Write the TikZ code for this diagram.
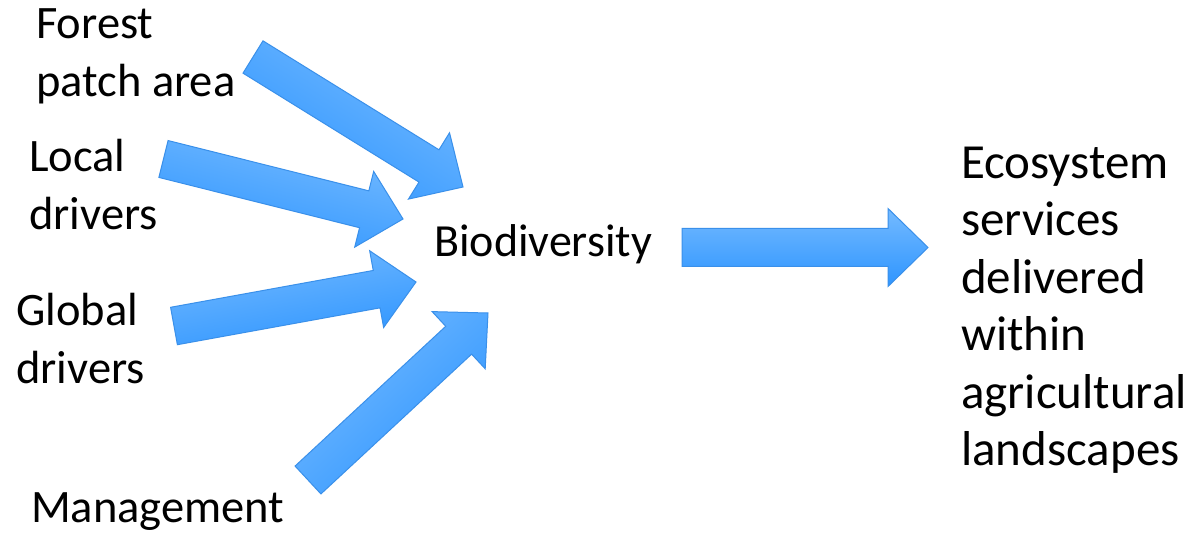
\documentclass[tikz,border=0pt]{standalone}
\usepackage{fontspec}
\setmainfont{Carlito}
\usetikzlibrary{calc}
\definecolor{arrowtop}{HTML}{74BAFF}
\definecolor{arrowbot}{HTML}{2E95FF}
\definecolor{arrowline}{HTML}{3A90EA}
\tikzset{
  lbl/.style={inner sep=0pt, anchor=base west, align=left, font=\fontsize{46.5}{58}\selectfont},
  biolbl/.style={inner sep=0pt, anchor=base west, align=left, font=\fontsize{46}{58}\selectfont},
  ecolbl/.style={inner sep=0pt, anchor=base west, align=left, font=\fontsize{49}{57.5}\selectfont},
  blockarr/.style={draw=arrowline, line width=1pt, top color=arrowtop, bottom color=arrowbot, line join=miter}
}
% #1 tail coordinate, #2 tip coordinate, #3 angle (degrees)
\newcommand{\blockarrow}[3]{%
  \coordinate (#1-hb) at ($(#2)!40pt!(#1)$);
  \path[blockarr, shading angle=#3]
    ($(#1)!19pt!90:(#2)$) -- ($(#1-hb)!19pt!90:(#2)$) -- ($(#1-hb)!39pt!90:(#2)$)
    -- (#2) -- ($(#1-hb)!39pt!-90:(#2)$) -- ($(#1-hb)!19pt!-90:(#2)$)
    -- ($(#1)!19pt!-90:(#2)$) -- cycle;
}
\begin{document}
\begin{tikzpicture}[x=1pt, y=-1pt]
\useasboundingbox[fill=white] (0,0) rectangle (1199,534);

% labels (base anchor = baseline of the last line)
\node[lbl] (forest) at (36,97) {Forest\\patch area};
\node[lbl] (local) at (29,230) {Local\\drivers};
\node[lbl] (global) at (16,383) {Global\\drivers};
\node[lbl] (mgmt) at (31,522) {Management};
\node[biolbl] (bio) at (434,257) {Biodiversity};
\node[ecolbl] (eco) at (961,465.5) {Ecosystem\\services\\delivered\\within\\agricultural\\landscapes};

% arrow end points
\coordinate (t1) at (253,57);   \coordinate (h1) at (463,187);
\coordinate (t2) at (163.5,159); \coordinate (h2) at (403,219);
\coordinate (t3) at (174,326);  \coordinate (h3) at (416,282);
\coordinate (t4) at (308,480);  \coordinate (h4) at (488,313);
\coordinate (t5) at (682,247.5); \coordinate (h5) at (928,247.5);

\blockarrow{t1}{h1}{-31.76}
\blockarrow{t2}{h2}{-14.06}
\blockarrow{t3}{h3}{10.3}
\blockarrow{t4}{h4}{42.85}
\blockarrow{t5}{h5}{0}
\end{tikzpicture}
\end{document}
